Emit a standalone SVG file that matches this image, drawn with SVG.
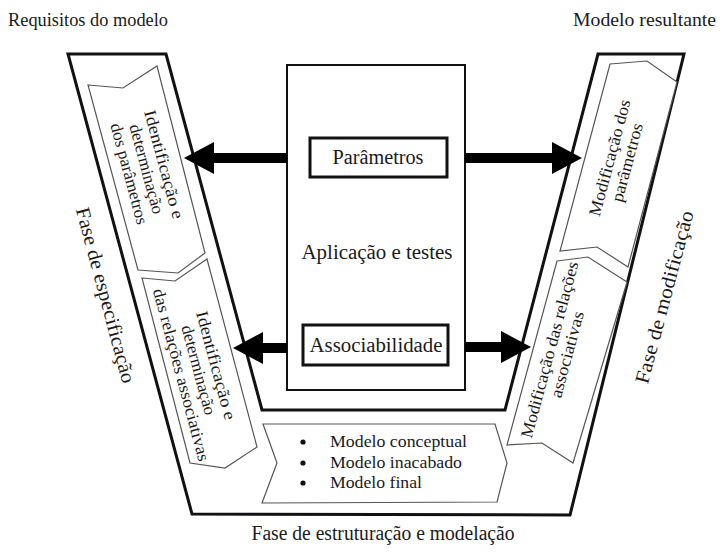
<svg xmlns="http://www.w3.org/2000/svg" width="722" height="554" viewBox="0 0 722 554" font-family="'Liberation Serif', 'Times New Roman', 'DejaVu Serif', serif">
<style>
text{font-family:'Liberation Serif','Times New Roman',Times,'DejaVu Serif',serif;fill:#1a1a1a}
.frame{fill:none;stroke:#111;stroke-width:3;stroke-linejoin:miter}
.panel{fill:#fff;stroke:#555;stroke-width:1.2;stroke-linejoin:miter}
.box{fill:#fff;stroke:#111;stroke-width:2}
.tag{fill:#fff;stroke:#111;stroke-width:3}
.shaft{stroke:#000;stroke-width:10}
.pt{font-size:17px}
.big{font-size:20px}
.lbl{font-size:18px}
.li{font-size:17px}
</style>
<defs>
<marker id="ah" viewBox="0 0 30 32" refX="1" refY="16" markerWidth="30" markerHeight="32" markerUnits="userSpaceOnUse" orient="auto">
<path d="M0,0 L30,16 L0,32 Z" fill="#000"/>
</marker>
</defs>

<g id="title-left"><text class="lbl" x="8" y="26" textLength="160" lengthAdjust="spacingAndGlyphs">Requisitos do modelo</text></g>
<g id="title-right"><text class="lbl" x="573" y="26" textLength="143" lengthAdjust="spacingAndGlyphs">Modelo resultante</text></g>

<g id="frame"><path class="frame" d="M68,54 L166,54 L262,410 L505,410 L598,54 L684,54 L570,515 L192,514 Z"/></g>

<g id="phase-spec"><g transform="translate(106,295) rotate(75)"><text class="big" x="0" y="7" text-anchor="middle" textLength="181" lengthAdjust="spacingAndGlyphs">Fase de especificação</text></g></g>
<g id="phase-mod"><g transform="translate(664,297) rotate(-75)"><text class="big" x="0" y="7" text-anchor="middle" textLength="178" lengthAdjust="spacingAndGlyphs">Fase de modificação</text></g></g>
<g id="phase-struct"><text class="big" x="383" y="540" text-anchor="middle" textLength="263" lengthAdjust="spacingAndGlyphs">Fase de estruturação e modelação</text></g>

<g id="panel-l1">
<path class="panel" d="M88,85 L123,88 L157,66 L205,253 L178,273 L138,270 Z"/>
<g transform="translate(147,169) rotate(75)">
<text class="pt" x="0" y="-12" text-anchor="middle" textLength="112" lengthAdjust="spacingAndGlyphs">Identificação e</text>
<text class="pt" x="0" y="6" text-anchor="middle" textLength="92" lengthAdjust="spacingAndGlyphs">determinação</text>
<text class="pt" x="0" y="24" text-anchor="middle" textLength="104" lengthAdjust="spacingAndGlyphs">dos parâmetros</text>
</g>
</g>

<g id="panel-l2">
<path class="panel" d="M142,278 L175,281 L207,259 L257,447 L225,468 L190,463 Z"/>
<g transform="translate(199,370) rotate(75)">
<text class="pt" x="0" y="-12" text-anchor="middle" textLength="112" lengthAdjust="spacingAndGlyphs">Identificação e</text>
<text class="pt" x="0" y="6" text-anchor="middle" textLength="92" lengthAdjust="spacingAndGlyphs">determinação</text>
<text class="pt" x="0" y="24" text-anchor="middle" textLength="178" lengthAdjust="spacingAndGlyphs">das relações associativas</text>
</g>
</g>

<g id="panel-r1">
<path class="panel" d="M610,64 L647,61 L677,82 L628,267 L597,247 L560,251 Z"/>
<g transform="translate(618,160) rotate(-75)">
<text class="pt" x="0" y="-3" text-anchor="middle" textLength="120" lengthAdjust="spacingAndGlyphs">Modificação dos</text>
<text class="pt" x="0" y="15" text-anchor="middle" textLength="81" lengthAdjust="spacingAndGlyphs">parâmetros</text>
</g>
</g>

<g id="panel-r2">
<path class="panel" d="M557,261 L588,257 L627,282 L573,463 L542,443 L507,445 Z"/>
<g transform="translate(558,352) rotate(-75)">
<text class="pt" x="0" y="-3" text-anchor="middle" textLength="182" lengthAdjust="spacingAndGlyphs">Modificação das relações</text>
<text class="pt" x="0" y="15" text-anchor="middle" textLength="89" lengthAdjust="spacingAndGlyphs">associativas</text>
</g>
</g>

<g id="panel-bottom">
<path class="panel" d="M263,424 L495,424 L507,463 L497,502 L262,503 L277,463 Z"/>
<circle cx="303" cy="442" r="2.6" fill="#111"/>
<circle cx="303" cy="463" r="2.6" fill="#111"/>
<circle cx="303" cy="483" r="2.6" fill="#111"/>
<text class="li" x="330" y="447" textLength="137" lengthAdjust="spacingAndGlyphs">Modelo conceptual</text>
<text class="li" x="330" y="468" textLength="132" lengthAdjust="spacingAndGlyphs">Modelo inacabado</text>
<text class="li" x="330" y="488" textLength="92" lengthAdjust="spacingAndGlyphs">Modelo final</text>
</g>

<g id="center">
<rect class="box" x="287" y="65" width="178" height="325"/>
<text class="big" x="377" y="259" text-anchor="middle" textLength="151" lengthAdjust="spacingAndGlyphs">Aplicação e testes</text>
</g>
<g id="parametros">
<rect class="tag" x="310" y="138" width="137" height="39"/>
<text class="big" x="378" y="164" text-anchor="middle" textLength="91" lengthAdjust="spacingAndGlyphs">Parâmetros</text>
</g>
<g id="associabilidade">
<rect class="tag" x="303" y="325" width="145" height="40"/>
<text class="big" x="376" y="352" text-anchor="middle" textLength="133" lengthAdjust="spacingAndGlyphs">Associabilidade</text>
</g>

<g id="connectors">
<line class="shaft" x1="287" y1="158" x2="213" y2="158" marker-end="url(#ah)"/>
<line class="shaft" x1="465" y1="158" x2="553" y2="158" marker-end="url(#ah)"/>
<line class="shaft" x1="287" y1="348" x2="262" y2="348" marker-end="url(#ah)"/>
<line class="shaft" x1="465" y1="347" x2="502" y2="347" marker-end="url(#ah)"/>
</g>
</svg>
